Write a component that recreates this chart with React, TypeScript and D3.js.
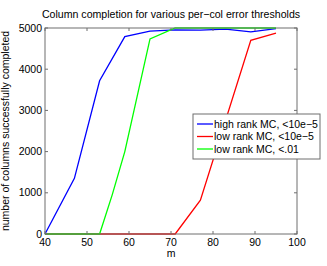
import * as d3 from 'd3'

const W = 327
const H = 266
const MARGIN = { top: 28, right: 30, bottom: 32, left: 45 }

const TITLE = 'Column completion for various per\u2212col error thresholds'
const X_LABEL = 'm'
const Y_LABEL = 'number of columns successfully completed'

const X_TICKS = [40, 50, 60, 70, 80, 90, 100]
const Y_TICKS = [0, 1000, 2000, 3000, 4000, 5000]

// sample points of m
const highRankM = [40, 47, 53, 59, 65, 71, 77, 83, 89, 95]
const highRankVals = [0, 1350, 3720, 4790, 4925, 4955, 4950, 4975, 4905, 4985]

const lowRankM = [40, 47, 53, 59, 65, 71, 77, 89, 95]
const lowRankVals = [0, 0, 0, 0, 0, 0, 820, 4700, 4875]

const lowRankLooseM = [40, 47, 53, 56, 59, 65, 71, 77, 83, 89, 95]
const lowRankLooseVals = [0, 0, 0, 950, 2000, 4735, 5000, 5000, 5000, 5000, 5000]

const SERIES = [
  { name: 'high rank MC, <10e\u22125', color: '#0000ff', m: highRankM, v: highRankVals },
  { name: 'low rank MC, <10e\u22125', color: '#ff0000', m: lowRankM, v: lowRankVals },
  { name: 'low rank MC, <.01', color: '#00ff00', m: lowRankLooseM, v: lowRankLooseVals },
]

const FONT = '"Liberation Sans", Arial, sans-serif'
const AXIS = '#6e6e6e'

export default function App() {
  const boundsW = W - MARGIN.left - MARGIN.right
  const boundsH = H - MARGIN.top - MARGIN.bottom

  const x = d3.scaleLinear().domain([40, 100]).range([0, boundsW])
  const y = d3.scaleLinear().domain([0, 5000]).range([boundsH, 0])

  const line = d3
    .line<[number, number]>()
    .x((d) => x(d[0]))
    .y((d) => y(d[1]))

  const tick = 3

  return (
    <svg
      width={W}
      height={H}
      style={{ position: 'absolute', left: 0, top: 0, background: '#fff', fontFamily: FONT }}
    >
      <text x={MARGIN.left + boundsW / 2} y={18} textAnchor="middle" fontSize={10.6} fill="#000">
        {TITLE}
      </text>
      <g transform={`translate(${MARGIN.left},${MARGIN.top})`}>
        {SERIES.map((s) => (
          <path
            key={s.name}
            d={line(s.m.map((m, i) => [m, s.v[i]] as [number, number])) || ''}
            fill="none"
            stroke={s.color}
            strokeWidth={1.3}
          />
        ))}
        <rect x={0} y={0} width={boundsW} height={boundsH} fill="none" stroke={AXIS} strokeWidth={1} />
        {X_TICKS.map((t) => (
          <g key={t}>
            <line x1={x(t)} x2={x(t)} y1={boundsH} y2={boundsH - tick} stroke={AXIS} />
            <line x1={x(t)} x2={x(t)} y1={0} y2={tick} stroke={AXIS} />
            <text x={x(t)} y={boundsH + 12} textAnchor="middle" fontSize={10.5} fill="#000">
              {t}
            </text>
          </g>
        ))}
        {Y_TICKS.map((t) => (
          <g key={t}>
            <line x1={0} x2={tick} y1={y(t)} y2={y(t)} stroke={AXIS} />
            <line x1={boundsW} x2={boundsW - tick} y1={y(t)} y2={y(t)} stroke={AXIS} />
            <text x={-3} y={y(t)} dy="0.35em" textAnchor="end" fontSize={10.5} fill="#000">
              {t}
            </text>
          </g>
        ))}
        <text x={boundsW / 2} y={boundsH + 22.5} textAnchor="middle" fontSize={10.5} fill="#000">
          {X_LABEL}
        </text>
        <text
          transform={`translate(${-36},${boundsH / 2}) rotate(-90)`}
          textAnchor="middle"
          fontSize={10.5}
          fill="#000"
        >
          {Y_LABEL}
        </text>
      </g>
      <g transform="translate(193,114)">
        <rect x={0} y={0} width={127} height={45} fill="#fff" stroke={AXIS} strokeWidth={1} />
        {SERIES.map((s, i) => (
          <g key={s.name} transform={`translate(0,${10 + i * 12.5})`}>
            <line x1={4} x2={20} y1={0} y2={0} stroke={s.color} strokeWidth={1.3} />
            <text x={21} y={0} dy="0.35em" fontSize={10.5} fill="#000">
              {s.name}
            </text>
          </g>
        ))}
      </g>
    </svg>
  )
}
